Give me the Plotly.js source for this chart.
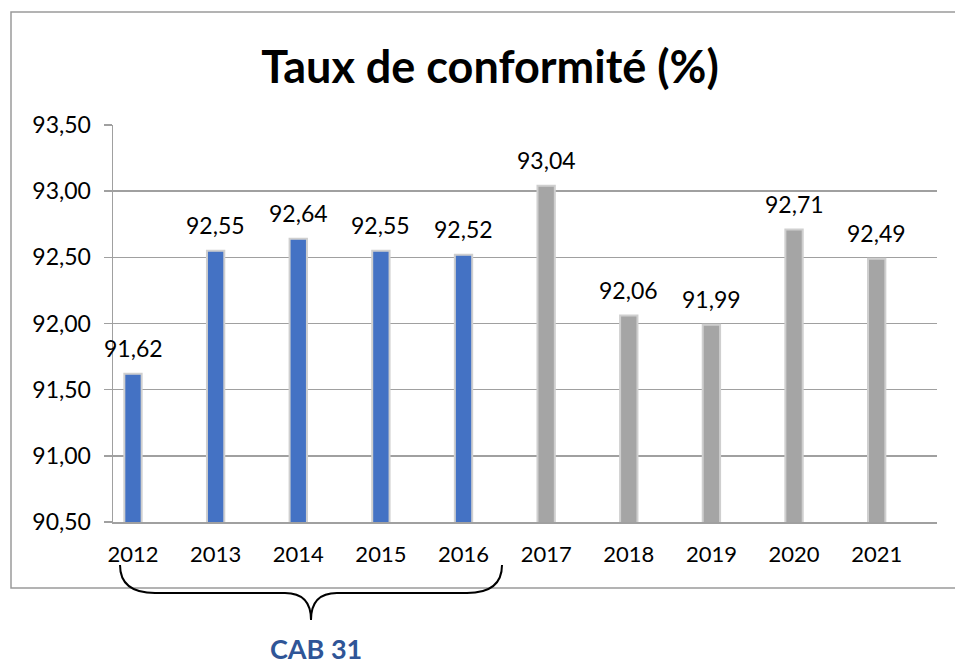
<!DOCTYPE html>
<html>
<head>
<meta charset="utf-8">
<script src="https://cdn.plot.ly/plotly-3.0.1.min.js"></script>
<style>html,body{margin:0;padding:0;background:#fff;}#chart{width:955px;height:664px;}</style>
</head>
<body>
<div id="chart"></div>
<script>
const years = ['2012','2013','2014','2015','2016','2017','2018','2019','2020','2021'];
const values = [91.62, 92.55, 92.64, 92.55, 92.52, 93.04, 92.06, 91.99, 92.71, 92.49];
const groups = ['CAB 31','CAB 31','CAB 31','CAB 31','CAB 31','','','','',''];
const blue = '#4472C4', grey = '#A5A5A5';
const colors = groups.map(g => g ? blue : grey);
const labels = values.map(v => v.toFixed(2).replace('.', ','));

const FONT = 'Lato, "Noto Sans", sans-serif';
const L = 113, R = 937, T = 125, B = 522;
const fx = px => (px - L) / (R - L);
const fy = py => (B - py) / (B - T);
const P = (x, y) => fx(x).toFixed(4) + ',' + fy(y).toFixed(4);
const brace = 'M ' + P(120,565) + ' Q ' + P(120,593) + ' ' + P(155,593) +
  ' L ' + P(285,593) + ' Q ' + P(311,593) + ' ' + P(311,620) +
  ' Q ' + P(311,593) + ' ' + P(337,593) + ' L ' + P(467,593) +
  ' Q ' + P(502,593) + ' ' + P(502,565);

const trace = {
  type: 'bar', x: years, y: values, width: 0.21,
  marker: {color: colors, line: {color: '#cfcfcf', width: 2}},
  hoverinfo: 'x+y'
};

const valueAnnots = years.map((yr, i) => ({
  x: i, y: values[i], xref: 'x', yref: 'y', text: labels[i], showarrow: false,
  xanchor: 'center', yanchor: 'middle', yshift: 26,
  font: {family: FONT, size: 23, color: '#000'}
}));

const layout = {
  width: 955, height: 664,
  margin: {l: L, r: 955 - R, t: T, b: 664 - B},
  paper_bgcolor: '#fff', plot_bgcolor: '#fff',
  separators: ', ',
  showlegend: false,
  title: {text: '<b>Taux de conformité (%)</b>', font: {family: FONT, size: 45, color: '#000'},
          xref: 'paper', x: fx(490), xanchor: 'center', yref: 'container', y: 1 - 67/664, yanchor: 'middle'},
  xaxis: {type: 'category', range: [-0.242, 9.73], showgrid: false, showline: true, linecolor: '#a0a0a0', linewidth: 1.5,
          ticks: '', tickfont: {family: FONT, size: 22, color: '#000'}, ticklabelstandoff: 12, fixedrange: true},
  yaxis: {range: [90.5, 93.5], dtick: 0.5, tick0: 90.5, tickformat: '.2f', showgrid: true,
          gridcolor: '#a0a0a0', gridwidth: 1.5, showline: true, linecolor: '#a0a0a0', linewidth: 1.5,
          ticks: 'outside', ticklen: 8, tickcolor: '#a0a0a0', tickwidth: 1.5,
          tickfont: {family: FONT, size: 23, color: '#000'}, ticklabelstandoff: 8, zeroline: false, fixedrange: true},
  shapes: [
    {type: 'rect', xref: 'paper', yref: 'paper', x0: fx(11), x1: fx(960), y0: fy(588), y1: fy(12),
     line: {color: '#9a9a9a', width: 1.5}, fillcolor: 'rgba(0,0,0,0)', layer: 'below'},
    {type: 'path', xref: 'paper', yref: 'paper', path: brace, line: {color: '#000', width: 2}}
  ],
  annotations: valueAnnots.concat([
    {text: '<b>CAB 31</b>', xref: 'paper', yref: 'paper', x: fx(316), y: fy(648), showarrow: false,
     xanchor: 'center', yanchor: 'middle', font: {family: FONT, size: 27, color: '#2F5597'}}
  ])
};

Plotly.newPlot('chart', [trace], layout, {displayModeBar: false, staticPlot: true});
</script>
</body>
</html>
